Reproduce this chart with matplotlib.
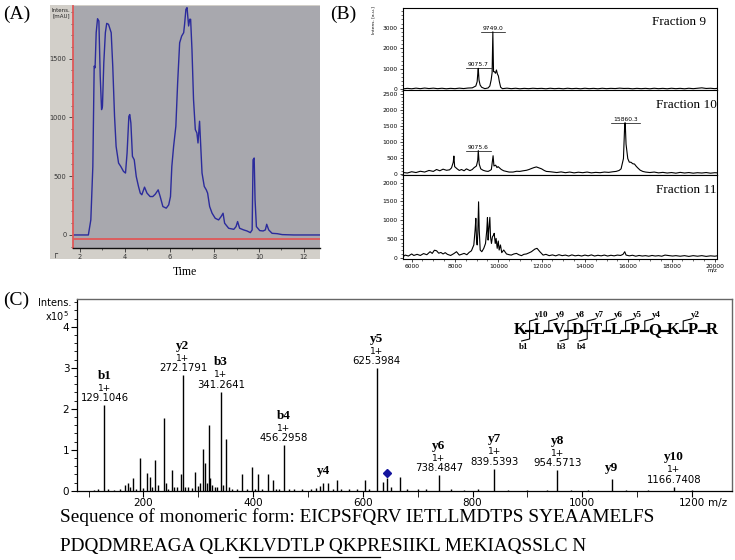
import matplotlib
matplotlib.use('Agg')
import matplotlib.pyplot as plt
from matplotlib.patches import Rectangle
from matplotlib.lines import Line2D
from matplotlib.ticker import MultipleLocator, FixedLocator

# ---------------- data ----------------
# (A) HPLC chromatogram
hplc_time = [1.67, 2.37, 2.48, 2.57, 2.63, 2.67, 2.72, 2.78, 2.84, 2.90, 2.96, 3.00, 3.06, 3.13, 3.19,
             3.27, 3.39, 3.46, 3.54, 3.61, 3.72, 3.82, 3.94, 4.03, 4.10, 4.18, 4.22, 4.27, 4.34, 4.42,
             4.51, 4.61, 4.69, 4.76, 4.88, 4.99, 5.13, 5.25, 5.36, 5.49, 5.58, 5.70, 5.85, 5.96, 6.04,
             6.10, 6.18, 6.28, 6.36, 6.45, 6.54, 6.63, 6.67, 6.73, 6.78, 6.85, 6.90, 6.94, 7.00, 7.07,
             7.15, 7.22, 7.27, 7.34, 7.40, 7.45, 7.55, 7.64, 7.70, 7.79, 7.90, 8.04, 8.19, 8.30, 8.39,
             8.46, 8.64, 8.87, 8.97, 9.04, 9.13, 9.31, 9.46, 9.61, 9.69, 9.73, 9.78, 9.82, 9.88, 10.03,
             10.18, 10.28, 10.34, 10.43, 10.58, 10.81, 11.03, 11.55, 12.70]
hplc_mau = [0, 0, 128, 583, 1437, 1423, 1722, 1841, 1821, 1352, 1067, 1096, 1466, 1722, 1801,
            1793, 1722, 1437, 1010, 754, 612, 583, 541, 527, 697, 1010, 1025, 953, 669, 640,
            498, 413, 356, 342, 407, 356, 327, 327, 347, 384, 327, 242, 228, 256, 327,
            583, 754, 925, 1295, 1636, 1693, 1722, 1793, 1921, 1935, 1779, 1836, 1836, 1580, 1153,
            897, 868, 783, 968, 726, 527, 413, 384, 356, 242, 185, 142, 128, 156, 185,
            100, 57, 48, 71, 114, 57, 43, 34, 20, 43, 640, 655, 299, 71, 37,
            34, 43, 91, 43, 14, 11, 3, 0, 0]

# (B) MALDI spectra (m/z, intensity)
frac9 = [(5600, 20), (5800, 45), (6000, 25), (6200, 55), (6400, 30), (6600, 60), (6800, 35), (7000, 55),
         (7200, 30), (7400, 50), (7600, 25), (7800, 45), (8000, 30), (8200, 55), (8400, 35), (8600, 60),
         (8800, 70), (8963, 160), (9024, 370), (9060, 860), (9076, 1020), (9110, 450), (9160, 210),
         (9230, 100), (9380, 30), (9530, 65), (9610, 160), (9670, 450), (9715, 810), (9749, 2800),
         (9780, 860), (9820, 860), (9870, 780), (9915, 940), (9960, 745), (10005, 650), (10050, 370),
         (10110, 100), (10190, 30), (10400, 55), (10600, 30), (10800, 50), (11000, 25), (11200, 45),
         (11400, 30), (11600, 50), (11800, 35), (12000, 45), (12200, 25), (12400, 50), (12600, 30),
         (12800, 45), (13000, 25), (13200, 50), (13400, 30), (13600, 45), (13800, 25), (14000, 50),
         (14200, 30), (14400, 45), (14600, 25), (14800, 50), (15000, 30), (15200, 45), (15400, 35),
         (15600, 55), (15800, 40), (16000, 45), (16200, 25), (16400, 45), (16600, 30), (16800, 45),
         (17000, 25), (17200, 50), (17400, 30), (17600, 45), (17800, 25), (18000, 50), (18200, 30),
         (18400, 45), (18600, 25), (18800, 50), (19000, 30), (19200, 50), (19400, 70), (19600, 40),
         (19800, 50), (20000, 30), (20100, 45)]
frac10 = [(5600, 57), (5800, 40), (6000, 80), (6200, 55), (6400, 95), (6600, 70), (6800, 120), (7000, 90),
          (7150, 150), (7300, 110), (7450, 160), (7610, 125), (7750, 140), (7840, 200), (7920, 375),
          (7950, 570), (7985, 240), (8100, 170), (8200, 120), (8300, 150), (8420, 110), (8530, 170),
          (8690, 115), (8800, 150), (8870, 200), (8990, 260), (9050, 430), (9076, 740), (9120, 320),
          (9190, 170), (9300, 125), (9420, 100), (9530, 90), (9620, 120), (9680, 150), (9760, 580),
          (9800, 260), (9880, 285), (9940, 210), (9990, 240), (10140, 150), (10250, 110), (10370, 90),
          (10500, 70), (10680, 70), (10850, 95), (10990, 90), (11150, 110), (11300, 125), (11420, 150),
          (11530, 180), (11650, 210), (11760, 230), (11880, 200), (12000, 170), (12120, 120),
          (12220, 90), (12400, 80), (12520, 70), (12700, 55), (12900, 75), (13100, 50), (13300, 70),
          (13500, 45), (13700, 65), (13900, 50), (14100, 70), (14300, 45), (14500, 60), (14700, 50),
          (14900, 70), (15100, 60), (15300, 80), (15440, 90), (15580, 120), (15670, 170), (15780, 490),
          (15840, 1600), (15862, 1610), (15900, 940), (15980, 490), (16050, 380), (16130, 375),
          (16210, 330), (16290, 320), (16370, 250), (16440, 200), (16550, 130), (16670, 90),
          (16800, 70), (17000, 55), (17200, 70), (17400, 45), (17600, 60), (17800, 40), (18000, 55),
          (18200, 35), (18400, 60), (18600, 40), (18800, 55), (19000, 35), (19200, 50), (19400, 40),
          (19600, 55), (19800, 35), (20000, 50), (20100, 45)]
frac11 = [(5600, 27), (5700, 70), (5850, 45), (6000, 100), (6100, 60), (6250, 90), (6400, 60), (6550, 110),
          (6700, 80), (6850, 160), (6950, 115), (7050, 200), (7150, 185), (7250, 120), (7350, 140),
          (7450, 100), (7550, 135), (7650, 90), (7800, 60), (7950, 110), (8070, 160), (8200, 70),
          (8300, 90), (8420, 115), (8550, 80), (8650, 140), (8760, 185), (8870, 340), (8930, 740),
          (8963, 1050), (8995, 470), (9025, 340), (9055, 650), (9090, 1490), (9120, 740), (9165, 205),
          (9240, 160), (9330, 250), (9410, 380), (9470, 740), (9500, 1070), (9530, 470), (9560, 740),
          (9610, 1075), (9640, 560), (9685, 380), (9730, 560), (9780, 600), (9810, 650), (9860, 380),
          (9900, 515), (9950, 250), (10000, 445), (10040, 205), (10100, 340), (10160, 135), (10250, 205),
          (10380, 100), (10500, 80), (10600, 70), (10720, 100), (10840, 115), (10950, 80), (11070, 55),
          (11180, 90), (11300, 100), (11420, 130), (11530, 160), (11620, 200), (11690, 230), (11790, 250),
          (11920, 160), (12070, 70), (12200, 90), (12350, 55), (12500, 75), (12650, 50), (12800, 80),
          (12950, 55), (13100, 70), (13250, 45), (13400, 75), (13550, 50), (13700, 65), (13850, 45),
          (14000, 70), (14150, 50), (14300, 75), (14450, 45), (14600, 65), (14750, 50), (14900, 70),
          (15050, 45), (15200, 65), (15350, 50), (15500, 70), (15650, 60), (15760, 90), (15840, 160),
          (15900, 70), (16050, 50), (16200, 65), (16350, 40), (16500, 60), (16650, 45), (16800, 55),
          (16950, 40), (17100, 60), (17250, 45), (17400, 55), (17550, 40), (17700, 70), (17900, 55),
          (18050, 45), (18200, 55), (18400, 40), (18600, 55), (18800, 35), (19000, 55), (19200, 40),
          (19400, 55), (19600, 35), (19800, 50), (20000, 40), (20100, 50)]
frac_names = ['Fraction 9', 'Fraction 10', 'Fraction 11']
frac_labels = [[(9075.7, '9075.7'), (9749.0, '9749.0')],
               [(9075.6, '9075.6'), (15860.3, '15860.3')],
               []]

# (C) MS/MS spectrum (m/z, intensity x1e5)
msms = [(110, 0.02), (118, 0.03), (129.1046, 2.10), (136, 0.03), (147, 0.02), (158, 0.03), (166, 0.15),
        (172.6, 0.20), (175, 0.10), (180.7, 0.30), (186, 0.05), (193.4, 0.79), (200, 0.06), (207, 0.42),
        (212, 0.33), (215, 0.08), (222, 0.75), (226, 0.15), (238, 1.78), (241, 0.20), (245, 0.05),
        (252, 0.50), (256, 0.10), (262, 0.08), (268, 0.40), (272.1791, 2.83), (276, 0.08), (282, 0.10),
        (288, 0.06), (295, 0.46), (300, 0.12), (304, 0.20), (309, 1.03), (313, 0.67), (316, 0.20),
        (319, 1.60), (322, 0.30), (326, 0.15), (330, 0.10), (334, 0.10), (341.2641, 2.42), (346, 0.15),
        (350, 1.25), (356, 0.10), (362, 0.05), (370, 0.04), (379, 0.40), (388, 0.05), (397.7, 0.58),
        (404, 0.04), (408.6, 0.40), (416, 0.05), (427, 0.40), (436, 0.25), (442, 0.05), (448, 0.04),
        (456.2958, 1.12), (466, 0.04), (475, 0.03), (490, 0.03), (505, 0.04), (515, 0.06), (522, 0.12),
        (528.33, 0.20), (536, 0.20), (545, 0.05), (552.6, 0.25), (560, 0.04), (575, 0.03), (590, 0.04),
        (604, 0.27), (612, 0.05), (625.3984, 2.99), (637.6, 0.22), (644, 0.30), (651, 0.10), (667, 0.34),
        (680, 0.03), (700, 0.03), (716, 0.03), (738.4847, 0.39), (760, 0.03), (785, 0.02), (810, 0.03),
        (839.5393, 0.54), (865, 0.02), (900, 0.02), (935, 0.02), (954.5713, 0.50), (980, 0.02),
        (1010, 0.02), (1053.66, 0.29), (1080, 0.02), (1120, 0.02), (1166.7408, 0.10), (1200, 0.02)]
ion_names = ['b1', 'y2', 'b3', 'b4', 'y4', 'y5', 'y6', 'y7', 'y8', 'y9', 'y10']
ion_mz = [129.1046, 272.1791, 341.2641, 456.2958, 528.33, 625.3984, 738.4847, 839.5393, 954.5713, 1053.66, 1166.7408]
ion_mass_text = ['129.1046', '272.1791', '341.2641', '456.2958', '', '625.3984', '738.4847', '839.5393',
                 '954.5713', '', '1166.7408']
precursor = (644, 0.42)

pep_letters = ['K', 'L', 'V', 'D', 'T', 'L', 'P', 'Q', 'K', 'P', 'R']
pep_y_marks = ['y10', 'y9', 'y8', 'y7', 'y6', 'y5', 'y4', '', 'y2', '']
pep_b_marks = ['b1', '', 'b3', 'b4', '', '', '', '', '', '']

seq_line1 = 'Sequence of monomeric form: EICPSFQRV IETLLMDTPS SYEAAMELFS'
seq_line2 = 'PDQDMREAGA QLKKLVDTLP QKPRESIIKL MEKIAQSSLC N'
underline_from = 'PDQDMREAGA QLK'
underline_to = 'PDQDMREAGA QLKKLVDTLP QKPR'

# ---------------- layout helpers ----------------
W, H = 735, 560
fig = plt.figure(figsize=(7.35, 5.6), dpi=100)
fig.patch.set_facecolor('white')
SERIF = ['Liberation Serif', 'DejaVu Serif']


def fx(x):
    return x / W


def fy(y):
    return 1 - y / H


def rect(l, t, r, b):
    return [l / W, 1 - b / H, (r - l) / W, (b - t) / H]


def fline(xs, ys, **kw):
    fig.add_artist(Line2D([fx(v) for v in xs], [fy(v) for v in ys], transform=fig.transFigure, **kw))


# ---------------- (A) ----------------
fig.add_artist(Rectangle((fx(50), fy(259)), (320 - 50) / W, (259 - 5) / H, transform=fig.transFigure,
                         facecolor='#d2cfc9', edgecolor='none', zorder=0))
axA = fig.add_axes(rect(72.7, 6, 319.5, 248))
axA.set_facecolor('#a8a8ae')
axA.plot(hplc_time, hplc_mau, color='#2b2b9c', lw=1.0)
axA.axhline(-34, color='#e05858', lw=1.3)
axA.set_xlim(1.67, 12.7)
axA.set_ylim(-111, 1949)
for s in ['top', 'right']:
    axA.spines[s].set_visible(False)
axA.spines['left'].set_color('#e05858')
axA.spines['left'].set_linewidth(1.3)
axA.spines['bottom'].set_color('#111111')
axA.spines['bottom'].set_linewidth(1.0)
axA.xaxis.set_minor_locator(MultipleLocator(1))
axA.yaxis.set_minor_locator(MultipleLocator(100))
axA.set_yticks([0, 500, 1000, 1500])
axA.set_xticks([2, 4, 6, 8, 10, 12])
axA.tick_params(axis='both', which='major', labelsize=4.8, length=3, width=0.6, colors='#333333', pad=1.5)
axA.tick_params(axis='both', which='minor', length=1.5, width=0.5, colors='#333333')
fig.text(fx(61), fy(13), 'Intens.\n[mAU]', fontsize=4.0, ha='center', va='center', linespacing=1.1,
         color='#222222')
fig.text(fx(55), fy(253), '\u250c', fontsize=6, ha='center', va='center', color='#333333')
fig.text(fx(185), fy(272), 'Time', family=SERIF, fontsize=8.5, ha='center', va='center')
fig.text(fx(3), fy(14), '(A)', family=SERIF, fontsize=14, ha='left', va='center')

# ---------------- (B) ----------------
b_rows = [(8, 90), (90, 175), (175, 258.5)]
b_ylims = [(-35, 3960), (-22, 2634), (-21, 2205)]
b_yticks = [[0, 1000, 2000, 3000], [0, 500, 1000, 1500, 2000, 2500], [0, 500, 1000, 1500, 2000]]
b_minor = [200, 100, 100]
b_name_x = [0.965, 0.999, 0.999]
b_name_y = [0.83, 0.82, 0.82]
for i, data in enumerate([frac9, frac10, frac11]):
    t, b = b_rows[i]
    ax = fig.add_axes(rect(403, t, 717, b))
    mz = [p[0] for p in data]
    inten = [p[1] for p in data]
    ax.plot(mz, inten, color='black', lw=0.8)
    ax.set_xlim(5600, 20100)
    ax.set_ylim(*b_ylims[i])
    ax.set_yticks(b_yticks[i])
    ax.yaxis.set_minor_locator(MultipleLocator(b_minor[i]))
    ax.xaxis.set_major_locator(MultipleLocator(2000))
    ax.xaxis.set_minor_locator(MultipleLocator(500))
    ax.tick_params(axis='both', which='major', labelsize=4.3, length=2.5, width=0.5, pad=1.5)
    ax.tick_params(axis='both', which='minor', length=1.3, width=0.4)
    for s in ax.spines.values():
        s.set_linewidth(0.8)
    if i < 2:
        ax.tick_params(axis='x', labelbottom=False)
    ax.text(b_name_x[i], b_name_y[i], frac_names[i], transform=ax.transAxes, family=SERIF,
            fontsize=9.5, ha='right', va='center')
    for pmz, ptxt in frac_labels[i]:
        ph = max(v for m, v in data if abs(m - pmz) < 40)
        ax.annotate(ptxt, (pmz, ph), xytext=(0, 0.8), textcoords='offset points', fontsize=4.3,
                    ha='center', va='bottom')
        half = 95 * len(ptxt)
        ax.plot([pmz - half, pmz + half], [ph, ph], color='black', lw=0.5)
    if i == 2:
        ax.text(1.0, -0.14, 'm/z', transform=ax.transAxes, fontsize=3.8, ha='right', va='center')
fig.text(fx(373), fy(20), 'Intens. [a.u.]', rotation=90, fontsize=3.2, ha='center', va='center')
fig.text(fx(330), fy(14), '(B)', family=SERIF, fontsize=14, ha='left', va='center')

# ---------------- (C) ----------------
axC = fig.add_axes(rect(77, 299, 732, 490.7))
c_mz = [p[0] for p in msms]
c_h = [p[1] for p in msms]
axC.vlines(c_mz, 0, c_h, color='black', lw=1.0)
axC.plot([precursor[0]], [precursor[1]], marker='D', ms=4.2, color='#15159e', ls='none')
axC.set_xlim(79, 1273)
axC.set_ylim(0, 4.68)
axC.xaxis.set_major_locator(FixedLocator([200, 400, 600, 800, 1000, 1200]))
axC.xaxis.set_minor_locator(MultipleLocator(100))
axC.yaxis.set_major_locator(MultipleLocator(1))
axC.yaxis.set_minor_locator(MultipleLocator(0.2))
axC.tick_params(axis='both', which='major', labelsize=7.5, length=4, width=0.8, pad=1.5)
axC.tick_params(axis='both', which='minor', length=2.5, width=0.6)
axC.tick_params(axis='x', which='minor', length=4)
for s in ['top', 'right']:
    axC.spines[s].set_color('#666666')
    axC.spines[s].set_linewidth(1.0)
for s in ['left', 'bottom']:
    axC.spines[s].set_linewidth(0.9)
for name, m, mass in zip(ion_names, ion_mz, ion_mass_text):
    h = max(v for mm, v in msms if abs(mm - m) < 0.5)
    if mass:
        axC.annotate(name, (m, h), xytext=(0, 21), textcoords='offset points', family=SERIF,
                     weight='bold', fontsize=9.5, ha='center', va='center')
        axC.annotate('1+', (m, h), xytext=(0, 12), textcoords='offset points', fontsize=6.5,
                     ha='center', va='center')
        axC.annotate(mass, (m, h), xytext=(0, 5), textcoords='offset points', fontsize=7.3,
                     ha='center', va='center')
    else:
        axC.annotate(name, (m, h), xytext=(0, 8), textcoords='offset points', family=SERIF,
                     weight='bold', fontsize=9.5, ha='center', va='center')
axC.text(1.0 - 14 / 655, -0.065, 'm/z', transform=axC.transAxes, fontsize=7.5, ha='center', va='center')
fig.text(fx(55), fy(303), 'Intens.', fontsize=7, ha='center', va='center')
fig.text(fx(57), fy(316), 'x10$^{5}$', fontsize=7, ha='center', va='center')
fig.text(fx(3), fy(300), '(C)', family=SERIF, fontsize=14, ha='left', va='center')

# peptide fragmentation scheme
x0, step, yc = 520, 19.2, 330
for i, L in enumerate(pep_letters):
    fig.text(fx(x0 + i * step), fy(yc), L, family=SERIF, weight='bold', fontsize=12,
             ha='center', va='center')
for i in range(len(pep_letters) - 1):
    gx = x0 + (i + 0.5) * step
    fline([gx - 3.5, gx + 3.5], [yc + 1, yc + 1], color='black', lw=1.6)
    if pep_y_marks[i]:
        fline([gx, gx, gx + 8], [yc + 1, yc - 9, yc - 11], color='black', lw=0.8)
        fig.text(fx(gx + 12), fy(yc - 15), pep_y_marks[i], family=SERIF, weight='bold', fontsize=6.5,
                 ha='center', va='center')
    if pep_b_marks[i]:
        fline([gx, gx, gx - 8], [yc + 1, yc + 9, yc + 11], color='black', lw=0.8)
        fig.text(fx(gx - 6), fy(yc + 17), pep_b_marks[i], family=SERIF, weight='bold', fontsize=6.5,
                 ha='center', va='center')

# sequence text
renderer = fig.canvas.get_renderer()
probe = fig.text(0, 0, seq_line1, family=SERIF, fontsize=14)
w14 = probe.get_window_extent(renderer).width
probe.remove()
fs = 14 * 600 / w14
fig.text(fx(60), fy(517), seq_line1, family=SERIF, fontsize=fs, ha='left', va='center')
fig.text(fx(60), fy(546), seq_line2, family=SERIF, fontsize=fs, ha='left', va='center')
p1 = fig.text(0, 0, underline_from, family=SERIF, fontsize=fs)
p2 = fig.text(0, 0, underline_to, family=SERIF, fontsize=fs)
u0 = p1.get_window_extent(renderer).width
u1 = p2.get_window_extent(renderer).width
p1.remove()
p2.remove()
fline([60 + u0, 60 + u1], [557, 557], color='black', lw=0.9)

fig.savefig('out.png', dpi=100, facecolor='white')
